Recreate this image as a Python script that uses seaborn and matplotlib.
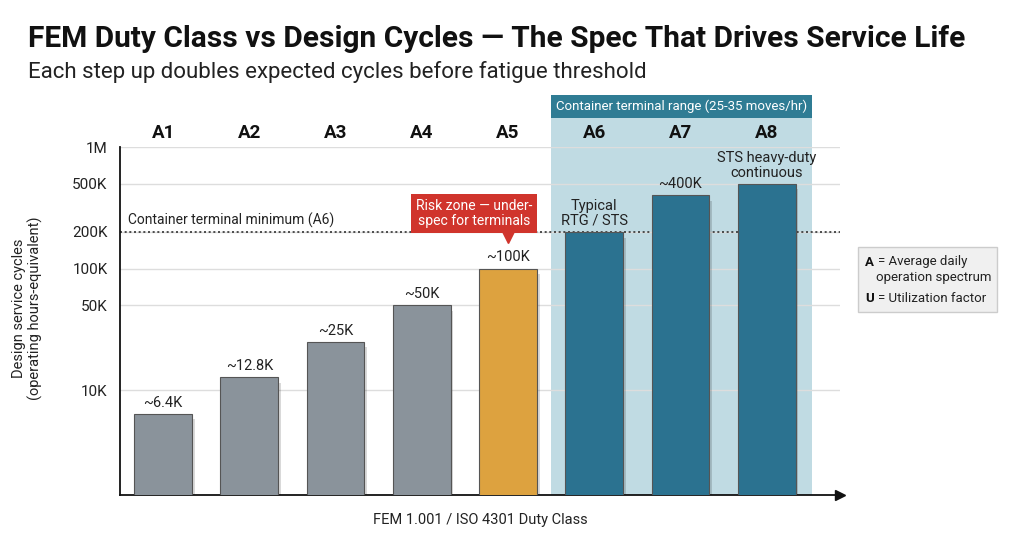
import numpy as np
import matplotlib
matplotlib.use("Agg")
import matplotlib.pyplot as plt
import matplotlib.patheffects as pe
from matplotlib.patches import Rectangle
import seaborn as sns

# dados
classes = ["A1", "A2", "A3", "A4", "A5", "A6", "A7", "A8"]
ciclos = [6400, 12800, 25000, 50000, 100000, 200000, 400000, 500000]
rotulos = ["~6.4K", "~12.8K", "~25K", "~50K", "~100K", "Typical\nRTG / STS", "~400K",
           "STS heavy-duty\ncontinuous"]
cores = ["#8A939B"] * 4 + ["#DDA23F"] + ["#2B7290"] * 3
yticks = [1e4, 5e4, 1e5, 2e5, 5e5, 1e6]
ytick_labels = ["10K", "50K", "100K", "200K", "500K", "1M"]
minimo_terminal = 200000

sns.set_style("white")
plt.rcParams['font.family'] = ['Roboto', 'DejaVu Sans']

fig = plt.figure(figsize=(10.24, 5.51), dpi=100)
ax = fig.add_axes([120/1024, 56/551, 720/1024, 348/551])

ax.set_yscale("log")
sns.barplot(x=classes, y=ciclos, hue=classes, palette=cores, legend=False, saturation=1,
            width=0.67, edgecolor="#555555", linewidth=0.8, ax=ax, zorder=3)
for barra in ax.patches:
    barra.set_path_effects([pe.SimplePatchShadow(offset=(2, -4), shadow_rgbFace="#000000", alpha=0.15),
                            pe.Normal()])

ax.set_xlim(-0.5, 7.85)
ax.set_ylim(1370, 1e6)
ax.set_yticks(yticks)
ax.set_yticklabels(ytick_labels, fontsize=11, color="#222222")
ax.tick_params(axis="y", which="major", length=3, width=0.8, color="#555555", pad=6)
ax.tick_params(axis="y", which="minor", length=2, width=0.5, color="#999999")
ax.set_xticks([])
ax.set_xlabel("")

# grade
for t in yticks:
    ax.axhline(t, color="#DDDDDD", linewidth=1, zorder=1)

# faixa do terminal de conteineres
faixa = Rectangle((4.5, 0), 3.02, 1.083, transform=ax.get_xaxis_transform(),
                  facecolor="#B9D8E0", edgecolor="none", alpha=0.9, clip_on=False, zorder=0.5)
ax.add_patch(faixa)
cab = Rectangle((4.5, 1.083), 3.02, 0.066, transform=ax.get_xaxis_transform(),
                facecolor="#2F7C94", edgecolor="none", clip_on=False, zorder=0.6)
ax.add_patch(cab)
ax.text(6.01, 1.116, "Container terminal range (25-35 moves/hr)", transform=ax.get_xaxis_transform(),
        ha="center", va="center", fontsize=9.5, color="white")

# classes no topo
for i, c in enumerate(classes):
    ax.text(i, 1.04, c, transform=ax.get_xaxis_transform(), ha="center", va="center",
            fontsize=13.5, fontweight="bold", color="#111111")

# rotulos das barras
for i, (v, r) in enumerate(zip(ciclos, rotulos)):
    ax.text(i, v * 1.08, r, ha="center", va="bottom", fontsize=10.5, color="#222222",
            linespacing=1.05, zorder=5)

# linha minima
ax.axhline(minimo_terminal, color="#333333", linestyle=(0, (1.2, 1.6)), linewidth=1.2, zorder=2)
ax.text(-0.41, minimo_terminal * 1.07, "Container terminal minimum (A6)", ha="left", va="bottom",
        fontsize=10, color="#222222")

# caixa de risco
ax.text(3.61, 285000, "Risk zone — under-\nspec for terminals", ha="center", va="center",
        fontsize=10, color="white", linespacing=1.1, zorder=6,
        bbox=dict(boxstyle="square,pad=0.35", facecolor="#D0342C", edgecolor="none"))
ax.plot([4.0], [185000], marker="v", markersize=10, color="#D0342C", zorder=6)

# eixos
sns.despine(ax=ax)
ax.spines["left"].set_color("#111111")
ax.spines["bottom"].set_color("#111111")
ax.spines["left"].set_linewidth(1.3)
ax.spines["bottom"].set_linewidth(1.3)
ax.plot(1, 0, ">", transform=ax.transAxes, color="#111111", markersize=7, clip_on=False)

ax.set_ylabel("Design service cycles\n(operating hours-equivalent)", fontsize=10.5, color="#222222",
              linespacing=1.1)
ax.yaxis.set_label_coords(-0.107, 0.537)
fig.text(480/1024, 1 - 520/551, "FEM 1.001 / ISO 4301 Duty Class", ha="center", va="center",
         fontsize=10.5, color="#222222")

# titulo
fig.text(28/1024, 1 - 47/551, "FEM Duty Class vs Design Cycles — The Spec That Drives Service Life",
         ha="left", va="baseline", fontsize=21.5, fontweight="bold", color="#111111")
fig.text(28/1024, 1 - 78/551, "Each step up doubles expected cycles before fatigue threshold",
         ha="left", va="baseline", fontsize=16, color="#222222")

# caixa de legenda
fig.patches.append(Rectangle((858/1024, 1 - 312/551), 139/1024, 65/551, transform=fig.transFigure,
                             facecolor="#F0F0F0", edgecolor="#CCCCCC", linewidth=1))
fig.text(865/1024, 1 - 262/551, "A", ha="left", va="center", fontsize=9.5, fontweight="bold", color="#111111")
fig.text(878/1024, 1 - 262/551, "= Average daily", ha="left", va="center", fontsize=9.5, color="#222222")
fig.text(876/1024, 1 - 277/551, "operation spectrum", ha="left", va="center", fontsize=9.5, color="#222222")
fig.text(865/1024, 1 - 299/551, "U", ha="left", va="center", fontsize=9.5, fontweight="bold", color="#111111")
fig.text(878/1024, 1 - 299/551, "= Utilization factor", ha="left", va="center", fontsize=9.5, color="#222222")

fig.savefig("out.png", dpi=100)
